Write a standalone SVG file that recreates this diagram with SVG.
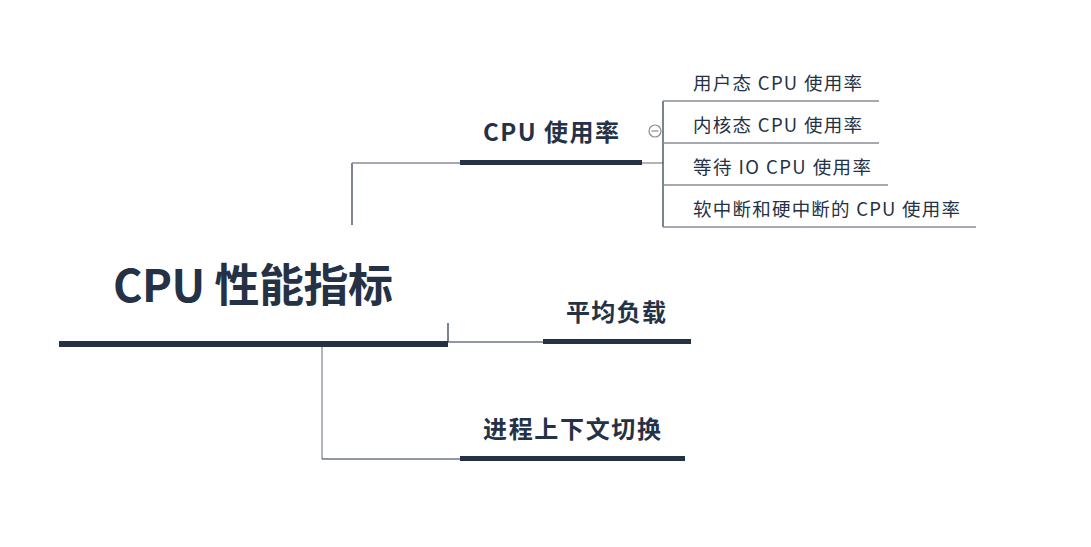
<svg xmlns="http://www.w3.org/2000/svg" width="1091" height="547" viewBox="0 0 1091 547">
<style>
.t{font-family:"Noto Sans CJK SC","Noto Sans",sans-serif;fill:#253246}
.b{font-weight:bold}
.bar{fill:#253246}
.ln{stroke:#8a8c96;stroke-width:1.3;fill:none}
.dk{stroke:#253246;stroke-width:1.2;fill:none}
</style>
<rect width="1091" height="547" fill="#ffffff"/>
<g id="connectors">
<path class="dk" d="M352,225 V163"/>
<path class="ln" d="M352,163 H460"/>
<path class="ln" d="M642,163 H663"/>
<path class="dk" d="M663,101 V227"/>
<path class="ln" d="M663,101 H879"/>
<path class="ln" d="M663,143 H879"/>
<path class="ln" d="M663,185 H888"/>
<path class="ln" d="M663,227 H976"/>
<path class="dk" d="M448,323 V342 H543"/>
<path class="ln" d="M322,346 V459"/>
<path class="dk" d="M322,459 H460"/>
</g>
<g id="root">
<rect class="bar" x="59" y="341" width="389" height="6"/>
<text class="t b" x="113" y="302" font-size="45" textLength="280" lengthAdjust="spacing">CPU 性能指标</text>
</g>
<g id="cpu-usage">
<rect class="bar" x="460" y="160" width="182" height="5"/>
<text class="t b" x="483" y="141" font-size="24" textLength="136" lengthAdjust="spacing">CPU 使用率</text>
<circle cx="655" cy="131" r="6" fill="#fff" stroke="#8a8c96" stroke-width="1.2"/>
<path d="M651.5,131 H658.5" stroke="#8a8c96" stroke-width="1.2"/>
</g>
<g id="user">
<text class="t" x="693" y="90" font-size="18.5" textLength="169" lengthAdjust="spacing">用户态 CPU 使用率</text>
</g>
<g id="kernel">
<text class="t" x="693" y="132" font-size="18.5" textLength="169" lengthAdjust="spacing">内核态 CPU 使用率</text>
</g>
<g id="iowait">
<text class="t" x="693" y="174" font-size="18.5" textLength="178" lengthAdjust="spacing">等待 IO CPU 使用率</text>
</g>
<g id="irq">
<text class="t" x="693" y="216" font-size="18.5" textLength="267" lengthAdjust="spacing">软中断和硬中断的 CPU 使用率</text>
</g>
<g id="loadavg">
<rect class="bar" x="543" y="339" width="148" height="5"/>
<text class="t b" x="566" y="321" font-size="24" textLength="100" lengthAdjust="spacing">平均负载</text>
</g>
<g id="ctxswitch">
<rect class="bar" x="460" y="456" width="225" height="5"/>
<text class="t b" x="483" y="438" font-size="24" textLength="178" lengthAdjust="spacing">进程上下文切换</text>
</g>
</svg>
